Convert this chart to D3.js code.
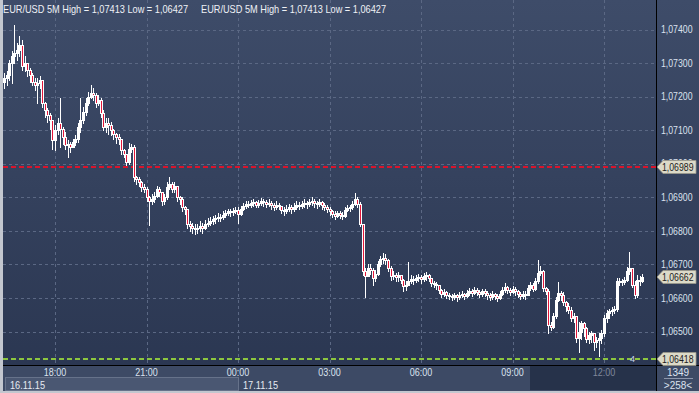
<!DOCTYPE html>
<html><head><meta charset="utf-8">
<script src="https://cdn.jsdelivr.net/npm/d3@7"></script>
<style>
body{margin:0;background:#c3c7cf;}
svg{display:block;font-family:"Liberation Sans",Arial,sans-serif;}
</style>
</head><body>
<svg id="c" width="699" height="393"></svg>
<script>
// ---- DATA ----
const symbolTitle = "EUR/USD 5M High = 1,07413 Low = 1,06427";
const firstBarTime = "2015-11-16T16:20:00";
const barMinutes = 5;
const firstOpen = 1.07245;
const closes = [
1.07255,1.07265,1.07300,1.07320,1.07330,1.07340,1.07355,1.07290,1.07300,1.07280,1.07265,1.07245,
1.07235,1.07240,1.07250,1.07180,1.07160,1.07145,1.07130,1.07070,1.07100,1.07120,1.07105,1.07080,
1.07055,1.07060,1.07050,1.07065,1.07075,1.07110,1.07130,1.07155,1.07180,1.07200,1.07210,1.07205,
1.07180,1.07190,1.07150,1.07110,1.07120,1.07115,1.07100,1.07090,1.07080,1.07075,1.07040,1.07030,
1.07005,1.07045,1.07050,1.06960,1.06955,1.06945,1.06930,1.06925,1.06900,1.06890,
1.06895,1.06905,1.06925,1.06915,1.06890,1.06900,1.06930,1.06940,1.06925,1.06935,1.06900,1.06895,
1.06870,1.06865,1.06820,1.06815,1.06810,1.06805,1.06810,1.06815,1.06808,1.06820,1.06825,1.06830,
1.06835,1.06838,1.06842,1.06840,1.06848,1.06852,1.06858,1.06855,1.06860,1.06862,1.06850,1.06865,
1.06875,1.06880,1.06878,1.06882,1.06885,1.06878,1.06882,1.06888,1.06885,1.06880,1.06884,1.06876,
1.06872,1.06878,1.06874,1.06862,1.06858,1.06866,1.06870,1.06864,1.06872,1.06878,1.06875,1.06880,
1.06884,1.06879,1.06886,1.06890,1.06884,1.06880,1.06886,1.06878,1.06872,1.06866,1.06858,1.06850,
1.06845,1.06852,1.06848,1.06845,1.06862,1.06868,1.06870,1.06880,1.06895,1.06880,1.06820,1.06680,
1.06665,1.06690,1.06685,1.06660,1.06672,1.06700,1.06715,1.06720,1.06712,1.06690,1.06665,1.06670,
1.06662,1.06668,1.06655,1.06635,1.06640,1.06652,1.06658,1.06655,1.06660,1.06662,1.06658,1.06665,
1.06668,1.06660,1.06645,1.06642,1.06638,1.06625,1.06612,1.06618,1.06610,1.06606,1.06604,1.06608,
1.06603,1.06608,1.06612,1.06606,1.06614,1.06620,1.06616,1.06624,1.06618,1.06612,1.06620,1.06615,
1.06608,1.06604,1.06612,1.06606,1.06600,1.06612,1.06625,1.06632,1.06624,1.06618,1.06626,1.06620,
1.06612,1.06605,1.06612,1.06610,1.06630,1.06640,1.06628,1.06650,1.06675,1.06682,1.06630,1.06620,
1.06520,1.06515,1.06545,1.06595,1.06615,1.06610,1.06588,1.06575,1.06565,1.06540,1.06545,1.06480,
1.06500,1.06525,1.06510,1.06478,1.06490,1.06495,1.06470,1.06475,1.06480,1.06495,1.06540,1.06555,
1.06560,1.06565,1.06568,1.06650,1.06652,1.06648,1.06655,1.06680,1.06688,1.06640,1.06610,1.06655,
1.06650,1.06662];
const highs = [
1.07270,1.07275,1.07310,1.07335,1.07413,1.07360,1.07380,1.07370,1.07320,1.07300,1.07285,1.07270,
1.07255,1.07255,1.07262,1.07250,1.07185,1.07165,1.07150,1.07115,1.07115,1.07135,1.07196,1.07110,
1.07095,1.07070,1.07065,1.07075,1.07085,1.07120,1.07196,1.07170,1.07195,1.07215,1.07235,1.07225,
1.07212,1.07205,1.07195,1.07160,1.07135,1.07137,1.07125,1.07105,1.07092,1.07090,1.07075,1.07045,
1.07030,1.07062,1.07060,1.07055,1.06965,1.06960,1.06950,1.06940,1.06930,1.06905,
1.06910,1.06915,1.06935,1.06930,1.06915,1.06910,1.06945,1.06961,1.06945,1.06945,1.06935,1.06905,
1.06900,1.06875,1.06865,1.06830,1.06825,1.06820,1.06822,1.06830,1.06825,1.06833,1.06838,1.06842,
1.06845,1.06848,1.06852,1.06850,1.06858,1.06862,1.06866,1.06865,1.06868,1.06872,1.06870,1.06875,
1.06884,1.06888,1.06890,1.06892,1.06895,1.06890,1.06892,1.06898,1.06895,1.06892,1.06894,1.06888,
1.06884,1.06888,1.06884,1.06874,1.06870,1.06876,1.06880,1.06876,1.06882,1.06888,1.06886,1.06890,
1.06894,1.06890,1.06896,1.06900,1.06895,1.06890,1.06896,1.06890,1.06884,1.06878,1.06870,1.06862,
1.06858,1.06860,1.06858,1.06855,1.06872,1.06876,1.06878,1.06890,1.06913,1.06900,1.06885,1.06820,
1.06690,1.06700,1.06700,1.06690,1.06685,1.06710,1.06725,1.06735,1.06730,1.06715,1.06695,1.06682,
1.06675,1.06678,1.06670,1.06658,1.06650,1.06708,1.06668,1.06665,1.06670,1.06672,1.06668,1.06675,
1.06678,1.06672,1.06660,1.06650,1.06648,1.06640,1.06628,1.06628,1.06622,1.06615,1.06612,1.06616,
1.06612,1.06618,1.06620,1.06616,1.06624,1.06630,1.06626,1.06634,1.06630,1.06624,1.06628,1.06626,
1.06620,1.06614,1.06620,1.06616,1.06612,1.06620,1.06634,1.06645,1.06636,1.06630,1.06636,1.06632,
1.06624,1.06618,1.06620,1.06622,1.06640,1.06648,1.06645,1.06660,1.06714,1.06695,1.06685,1.06632,
1.06628,1.06530,1.06555,1.06602,1.06649,1.06622,1.06618,1.06590,1.06586,1.06572,1.06555,1.06540,
1.06530,1.06532,1.06528,1.06515,1.06500,1.06502,1.06488,1.06485,1.06495,1.06505,1.06548,1.06565,
1.06568,1.06572,1.06575,1.06660,1.06660,1.06658,1.06662,1.06692,1.06738,1.06690,1.06650,1.06668,
1.06665,1.06672];
const lows = [
1.07225,1.07235,1.07250,1.07240,1.07300,1.07310,1.07320,1.07280,1.07275,1.07260,1.07245,1.07235,
1.07220,1.07180,1.07225,1.07170,1.07140,1.07125,1.07105,1.07045,1.07042,1.07090,1.07050,1.07060,
1.07045,1.07020,1.07035,1.07050,1.07055,1.07065,1.07095,1.07120,1.07145,1.07175,1.07195,1.07190,
1.07170,1.07175,1.07140,1.07100,1.07095,1.07090,1.07086,1.07075,1.07062,1.07060,1.07030,1.07020,
1.06995,1.07000,1.07035,1.06950,1.06940,1.06935,1.06920,1.06915,1.06890,1.06818,
1.06880,1.06885,1.06900,1.06905,1.06878,1.06880,1.06895,1.06925,1.06915,1.06915,1.06890,1.06880,
1.06860,1.06850,1.06810,1.06800,1.06795,1.06790,1.06795,1.06800,1.06795,1.06805,1.06815,1.06818,
1.06820,1.06825,1.06830,1.06830,1.06835,1.06842,1.06846,1.06845,1.06848,1.06852,1.06825,1.06848,
1.06862,1.06868,1.06870,1.06872,1.06875,1.06870,1.06872,1.06876,1.06874,1.06870,1.06874,1.06866,
1.06862,1.06866,1.06864,1.06852,1.06848,1.06852,1.06858,1.06854,1.06860,1.06866,1.06864,1.06868,
1.06872,1.06868,1.06874,1.06878,1.06872,1.06868,1.06874,1.06866,1.06862,1.06855,1.06848,1.06840,
1.06836,1.06840,1.06838,1.06836,1.06842,1.06858,1.06860,1.06866,1.06876,1.06870,1.06815,1.06670,
1.06604,1.06665,1.06672,1.06640,1.06650,1.06670,1.06695,1.06705,1.06700,1.06680,1.06655,1.06658,
1.06650,1.06652,1.06645,1.06620,1.06625,1.06638,1.06645,1.06642,1.06648,1.06650,1.06645,1.06652,
1.06655,1.06650,1.06635,1.06632,1.06628,1.06615,1.06603,1.06605,1.06600,1.06598,1.06595,1.06597,
1.06592,1.06598,1.06602,1.06596,1.06604,1.06608,1.06606,1.06612,1.06608,1.06602,1.06606,1.06605,
1.06598,1.06594,1.06598,1.06596,1.06592,1.06598,1.06608,1.06618,1.06614,1.06608,1.06614,1.06610,
1.06602,1.06597,1.06600,1.06598,1.06608,1.06625,1.06620,1.06625,1.06645,1.06668,1.06622,1.06612,
1.06497,1.06505,1.06510,1.06540,1.06592,1.06595,1.06580,1.06560,1.06556,1.06532,1.06530,1.06470,
1.06440,1.06478,1.06486,1.06470,1.06466,1.06470,1.06446,1.06455,1.06427,1.06465,1.06488,1.06530,
1.06540,1.06550,1.06555,1.06562,1.06640,1.06640,1.06642,1.06650,1.06672,1.06632,1.06600,1.06604,
1.06640,1.06648];
const opens = closes.map((c, i) => i === 0 ? firstOpen : closes[i - 1]);

const priceTicks = [1.07400,1.07300,1.07200,1.07100,1.07000,1.06900,1.06800,1.06700,1.06600,1.06500];
const timeTickLabels = ["18:00","21:00","00:00","03:00","06:00","09:00","12:00"];
const timeTickDates = ["2015-11-16","2015-11-16","2015-11-17","2015-11-17","2015-11-17","2015-11-17","2015-11-17"];
const dateLabels = ["16.11.15","17.11.15"];
const redLinePrice = 1.06989;
const lastPrice = 1.06662;
const greenLinePrice = 1.06418;
const cornerTop = "1349";
const cornerBottom = ">258<";
const objectLabel = "4";

// ---- LAYOUT ----
const svg = d3.select("#c");
const PL = 3, PR = 656, PT = 0, PB = 365;
const fmt = p => d3.format(".5f")(p).replace(".", ",");
const parse = d3.isoParse;
const t0 = parse(firstBarTime);
const times = closes.map((_, i) => d3.timeMinute.offset(t0, i * barMinutes));
const tickTimes = timeTickLabels.map((l, i) => parse(timeTickDates[i] + "T" + l + ":00"));

const x = d3.scaleTime().domain([tickTimes[0], tickTimes[6]]).range([55, 604]);
const y = d3.scaleLinear().domain([1.065, 1.074]).range([331.6, 29.5]);

const defs = svg.append("defs");
const g1 = defs.append("linearGradient").attr("id","bg").attr("x1",0).attr("x2",0).attr("y1",0).attr("y2",1);
g1.append("stop").attr("offset","0%").attr("stop-color","#3e4c69");
g1.append("stop").attr("offset","100%").attr("stop-color","#2b3752");
defs.append("clipPath").attr("id","pc").append("rect").attr("x",PL).attr("y",PT).attr("width",PR-PL).attr("height",PB-PT);

// frame
svg.append("rect").attr("width",699).attr("height",393).attr("fill","#c3c7cf");
svg.append("rect").attr("x",PL).attr("y",0).attr("width",PR-PL).attr("height",PB).attr("fill","url(#bg)");
svg.append("rect").attr("x",PR+1).attr("y",0).attr("width",699-PR-1).attr("height",PB).attr("fill","url(#bg)");
// time axis area
svg.append("rect").attr("x",PL).attr("y",PB+1).attr("width",PR-PL).attr("height",25).attr("fill","#3d4a65");
svg.append("rect").attr("x",PR+1).attr("y",PB+1).attr("width",699-PR-1).attr("height",25).attr("fill","#3d4a65");
// dark block under last session
svg.append("rect").attr("x",Math.round(x(tickTimes[6]))-74).attr("y",PB+1).attr("width",PR-(Math.round(x(tickTimes[6]))-74)).attr("height",24).attr("fill","#26324a");
// date box
svg.append("rect").attr("x",5.5).attr("y",377.5).attr("width",Math.round(x(tickTimes[2]))-5).attr("height",13).attr("fill","#4a5772").attr("stroke","#66728a");

const grid = svg.append("g").attr("clip-path","url(#pc)");
grid.selectAll("line.h").data(priceTicks).join("line")
  .attr("x1",PL).attr("x2",PR).attr("y1",d=>Math.round(y(d))+0.5).attr("y2",d=>Math.round(y(d))+0.5)
  .attr("stroke","#5b6884").attr("stroke-dasharray","3,3");
grid.selectAll("line.v").data(tickTimes).join("line")
  .attr("y1",PT).attr("y2",PB).attr("x1",d=>Math.round(x(d))+0.5).attr("x2",d=>Math.round(x(d))+0.5)
  .attr("stroke","#5b6884").attr("stroke-dasharray","3,3");

// red and green dashed lines
const dl = svg.append("g").attr("clip-path","url(#pc)");
dl.append("line").attr("x1",PL).attr("x2",PR).attr("y1",Math.round(y(redLinePrice))).attr("y2",Math.round(y(redLinePrice)))
  .attr("stroke","#d8142c").attr("stroke-width",2).attr("stroke-dasharray","5,3");
dl.append("line").attr("x1",PL).attr("x2",PR).attr("y1",Math.round(y(greenLinePrice))).attr("y2",Math.round(y(greenLinePrice)))
  .attr("stroke","#8cc63f").attr("stroke-width",2).attr("stroke-dasharray","5,3");

// candles
const bars = closes.map((c,i)=>({t:times[i],o:opens[i],h:highs[i],l:lows[i],c:c}));
const cg = svg.append("g").attr("clip-path","url(#pc)");
bars.forEach(b=>{
  const cx = Math.round(x(b.t));
  const top = Math.max(b.h,b.o,b.c), bot = Math.min(b.l,b.o,b.c);
  cg.append("line").attr("x1",cx+0.5).attr("x2",cx+0.5)
    .attr("y1",Math.round(y(top))).attr("y2",Math.round(y(bot))+1)
    .attr("stroke","#ffffff").attr("stroke-width",1);
  const yt = Math.round(y(Math.max(b.o,b.c))), yb = Math.round(y(Math.min(b.o,b.c)));
  const bear = b.c < b.o;
  cg.append("rect").attr("x",cx-0.5).attr("y",yt+0.5).attr("width",2).attr("height",Math.max(yb-yt,1))
    .attr("fill",bear?"#e3173a":"#ffffff").attr("stroke","#ffffff").attr("stroke-width",1);
});

// axis lines
svg.append("line").attr("x1",PR+0.5).attr("x2",PR+0.5).attr("y1",0).attr("y2",391).attr("stroke","#000");
svg.append("line").attr("x1",PL).attr("x2",699).attr("y1",PB+0.5).attr("y2",PB+0.5).attr("stroke","#000");

// title
[3, 201].forEach(tx=>{
  svg.append("text").attr("x",tx).attr("y",13).attr("font-size",10.5).attr("fill","#eef1f6")
    .attr("textLength",185).attr("lengthAdjust","spacingAndGlyphs").text(symbolTitle);
});

// price labels
svg.selectAll("text.p").data(priceTicks).join("text")
  .attr("x",661).attr("y",d=>y(d)+3.6).attr("font-size",10).attr("fill","#dbe2ee")
  .attr("textLength",31.5).attr("lengthAdjust","spacingAndGlyphs").text(d=>fmt(d));

// time labels
svg.selectAll("text.t").data(tickTimes).join("text")
  .attr("x",d=>x(d)).attr("y",376).attr("text-anchor","middle").attr("font-size",10)
  .attr("fill",(d,i)=>i===6?"#7f889b":"#dbe2ee")
  .attr("textLength",22.5).attr("lengthAdjust","spacingAndGlyphs").text((d,i)=>timeTickLabels[i]);

// date labels
svg.append("text").attr("x",10).attr("y",388.5).attr("font-size",10).attr("fill","#e6ebf3")
  .attr("textLength",35).attr("lengthAdjust","spacingAndGlyphs").text(dateLabels[0]);
svg.append("text").attr("x",Math.round(x(tickTimes[2]))+5).attr("y",388.5).attr("font-size",10).attr("fill","#e6ebf3")
  .attr("textLength",35).attr("lengthAdjust","spacingAndGlyphs").text(dateLabels[1]);

// markers
function marker(p){
  const cy = Math.round(y(p));
  const pts = [[PR+1,cy],[PR+7,cy-6.5],[696,cy-6.5],[696,cy+6.5],[PR+7,cy+6.5]];
  svg.append("polygon").attr("points",pts.map(q=>q.join(",")).join(" "))
    .attr("fill","#dcdac8").attr("stroke","#9a988a").attr("stroke-width",0.8);
  svg.append("text").attr("x",662).attr("y",cy+3.6).attr("font-size",10).attr("fill","#1c1c1c")
    .attr("textLength",31.5).attr("lengthAdjust","spacingAndGlyphs").text(fmt(p));
}
marker(redLinePrice);
marker(lastPrice);
marker(greenLinePrice);

// object label
svg.append("text").attr("x",630).attr("y",362).attr("font-size",9).attr("fill","#c9d6ea").text(objectLabel);

// corner box
svg.append("text").attr("x",678).attr("y",375.5).attr("text-anchor","middle").attr("font-size",10).attr("fill","#dbe2ee").text(cornerTop);
svg.append("line").attr("x1",664).attr("x2",693).attr("y1",378.5).attr("y2",378.5).attr("stroke","#8b95aa");
svg.append("text").attr("x",678).attr("y",388.5).attr("text-anchor","middle").attr("font-size",10).attr("fill","#dbe2ee").text(cornerBottom);
</script>
</body></html>
